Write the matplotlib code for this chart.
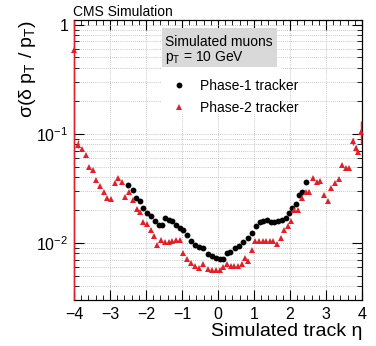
import matplotlib
matplotlib.use("Agg")
import matplotlib.pyplot as plt
from matplotlib.ticker import MultipleLocator, LogLocator, FixedLocator, FixedFormatter, NullFormatter
from matplotlib.lines import Line2D
from matplotlib.patches import Rectangle

plt.rcParams['font.family'] = ['Liberation Sans', 'DejaVu Sans']
plt.rcParams['mathtext.fontset'] = 'custom'
plt.rcParams['mathtext.rm'] = 'Liberation Sans'
plt.rcParams['mathtext.it'] = 'Liberation Sans:italic'
plt.rcParams['mathtext.default'] = 'regular'

# Phase-1 tracker (black circles)
eta_p1 = [-2.49, -2.37, -2.27, -2.17, -2.07, -1.96, -1.85, -1.75, -1.65, -1.56,
          -1.47, -1.37, -1.27, -1.17, -1.06, -0.96, -0.87, -0.76, -0.64, -0.54,
          -0.41, -0.27, -0.16, -0.06, 0.06, 0.13, 0.24, 0.33, 0.47, 0.59,
          0.70, 0.84, 0.94, 1.06, 1.17, 1.26, 1.35, 1.46, 1.56, 1.68,
          1.77, 1.88, 1.97, 2.06, 2.16, 2.25, 2.34, 2.44]
res_p1 = [0.034, 0.0305, 0.026, 0.024, 0.021, 0.0187, 0.0178, 0.016, 0.0147, 0.0145,
          0.017, 0.0163, 0.0158, 0.0147, 0.0137, 0.0132, 0.0117, 0.0105, 0.0095, 0.0091,
          0.009, 0.0079, 0.0076, 0.0072, 0.0071, 0.0071, 0.0081, 0.0082, 0.009, 0.0093,
          0.0102, 0.0112, 0.0123, 0.0142, 0.0154, 0.0158, 0.0163, 0.0155, 0.0155, 0.0158,
          0.0163, 0.017, 0.0187, 0.0208, 0.0228, 0.0275, 0.0295, 0.0358]

# Phase-2 tracker (red triangles)
eta_p2 = [-3.99, -3.90, -3.79, -3.68, -3.58, -3.48, -3.38, -3.28, -3.18, -3.07,
          -2.97, -2.87, -2.78, -2.68, -2.57, -2.47, -2.37, -2.26, -2.18, -2.07,
          -1.98, -1.87, -1.78, -1.69, -1.57, -1.47, -1.37, -1.28, -1.16, -1.06,
          -0.96, -0.87, -0.76, -0.65, -0.54, -0.42, -0.28, -0.18, -0.06, 0.06,
          0.15, 0.24, 0.35, 0.45, 0.56, 0.66, 0.75, 0.84, 0.94, 1.03,
          1.14, 1.24, 1.33, 1.44, 1.53, 1.63, 1.74, 1.84, 1.94, 2.03,
          2.12, 2.23, 2.32, 2.44, 2.54, 2.65, 2.74, 2.84, 2.95, 3.05,
          3.15, 3.25, 3.35, 3.45, 3.55, 3.64, 3.76, 3.83, 3.88, 3.97]
res_p2 = [0.58, 0.079, 0.073, 0.064, 0.050, 0.047, 0.038, 0.033, 0.029, 0.026,
          0.025, 0.035, 0.039, 0.036, 0.0265, 0.029, 0.0248, 0.0205, 0.019, 0.0154,
          0.0148, 0.0132, 0.0115, 0.0095, 0.0107, 0.0103, 0.0103, 0.0105, 0.0107, 0.0107,
          0.0081, 0.0071, 0.0065, 0.0061, 0.0059, 0.0064, 0.0058, 0.0056, 0.0057, 0.0057,
          0.006, 0.0064, 0.0062, 0.0062, 0.0062, 0.0064, 0.0073, 0.0068, 0.0087, 0.0104,
          0.0104, 0.0104, 0.0104, 0.0104, 0.0104, 0.0098, 0.0111, 0.0132, 0.0142, 0.016,
          0.0201, 0.0201, 0.0256, 0.029, 0.029, 0.0395, 0.036, 0.037, 0.0275, 0.0244,
          0.0316, 0.035, 0.0384, 0.0515, 0.049, 0.049, 0.085, 0.074, 0.068, 0.104]
# Visible error bars on Phase-2 points (eta, low, high)
err_eta = [-3.99, -3.90, 3.76, 3.83, 3.97]
err_lo = [0.003, 0.074, 0.079, 0.070, 0.081]
err_hi = [1.1, 0.087, 0.092, 0.079, 0.13]

xmin, xmax = -4, 4
ymin, ymax = 0.003, 1.1

fig = plt.figure(figsize=(3.76, 3.46), dpi=100)
ax = fig.add_axes([74/376, 46/346, 288/376, 280/346])
ax.set_xlim(xmin, xmax)
ax.set_yscale('log')
ax.set_ylim(ymin, ymax)

gstyle = dict(color='#b4b4b4', linestyle=(0, (1, 1.5)), linewidth=0.6)
ax.grid(True, which='major', axis='x', **gstyle)
ax.grid(True, which='both', axis='y', **gstyle)
ax.set_axisbelow(True)

red = '#e3202a'
ax.vlines(err_eta, err_lo, err_hi, color=red, linewidth=1.0, zorder=3, clip_on=False)
ax.plot(eta_p1, res_p1, 'o', color='black', markersize=4.2, markeredgewidth=0, zorder=4)
ax.plot(eta_p2, res_p2, '^', color=red, markersize=4.2, markeredgewidth=0, zorder=4, clip_on=False)

ax.xaxis.set_major_locator(MultipleLocator(1))
ax.xaxis.set_minor_locator(MultipleLocator(0.2))
ax.yaxis.set_major_locator(FixedLocator([0.01, 0.1, 1]))
ax.yaxis.set_major_formatter(FixedFormatter([r'$10^{-2}$', r'$10^{-1}$', '1']))
ax.yaxis.set_minor_locator(LogLocator(base=10, subs=range(2, 10)))
ax.yaxis.set_minor_formatter(NullFormatter())
ax.tick_params(which='both', direction='in', top=True, right=True, colors='black')
ax.tick_params(which='major', length=7, width=0.8, labelsize=11.5)
ax.tick_params(which='minor', length=3.5, width=0.6)
ax.tick_params(axis='y', which='major', pad=4)
ax.tick_params(axis='x', which='major', pad=5)
xt = [-4, -3, -2, -1, 0, 1, 2, 3, 4]
ax.set_xticks(xt)
ax.set_xticklabels(['\u2212' + str(abs(v)) if v < 0 else str(v) for v in xt])
for s in ax.spines.values():
    s.set_linewidth(0.9)

ax.set_xlabel('Simulated track \u03b7', fontsize=14, loc='right', labelpad=1)
ax.set_ylabel(r'$\mathregular{\sigma(\delta\ p_{T}\ /\ p_{T})}$', fontsize=14, loc='top', labelpad=0)
ax.yaxis.set_label_coords(-(74 - 38) / 288, 1.0)

fig.text(73/376, 1 - 16/346, 'CMS Simulation', fontsize=10, ha='left', va='baseline')

# gray info box
ax.add_patch(Rectangle(((162-74)/288, (300-67)/280), (277-162)/288, (67-28)/280,
                       transform=ax.transAxes, facecolor='#d9d9d9', edgecolor='none', zorder=5))
ax.add_patch(Rectangle(((162-74)/288, (300-113)/280), (283-162)/288, (113-67)/280,
                       transform=ax.transAxes, facecolor='white', edgecolor='none', zorder=5))
ax.text((165-74)/288, (300-42)/280, 'Simulated muons', transform=ax.transAxes,
        fontsize=10, va='center', ha='left', zorder=6)
ax.text((165-74)/288, (300-57)/280, r'$\mathregular{p_{T}}$ = 10 GeV', transform=ax.transAxes,
        fontsize=10, va='center', ha='left', zorder=6)

handles = [Line2D([], [], marker='o', color='black', linestyle='none', markersize=4.2, markeredgewidth=0),
           Line2D([], [], marker='^', color=red, linestyle='none', markersize=4.2, markeredgewidth=0)]
leg = ax.legend(handles, ['Phase-1 tracker', 'Phase-2 tracker'], loc='upper left',
                bbox_to_anchor=((160-74)/288, (300-68)/280), frameon=False, fontsize=10,
                handlelength=1.2, handletextpad=0.9, labelspacing=0.55, borderpad=0.3)
leg.set_zorder(6)

fig.savefig('out.png', dpi=100)
